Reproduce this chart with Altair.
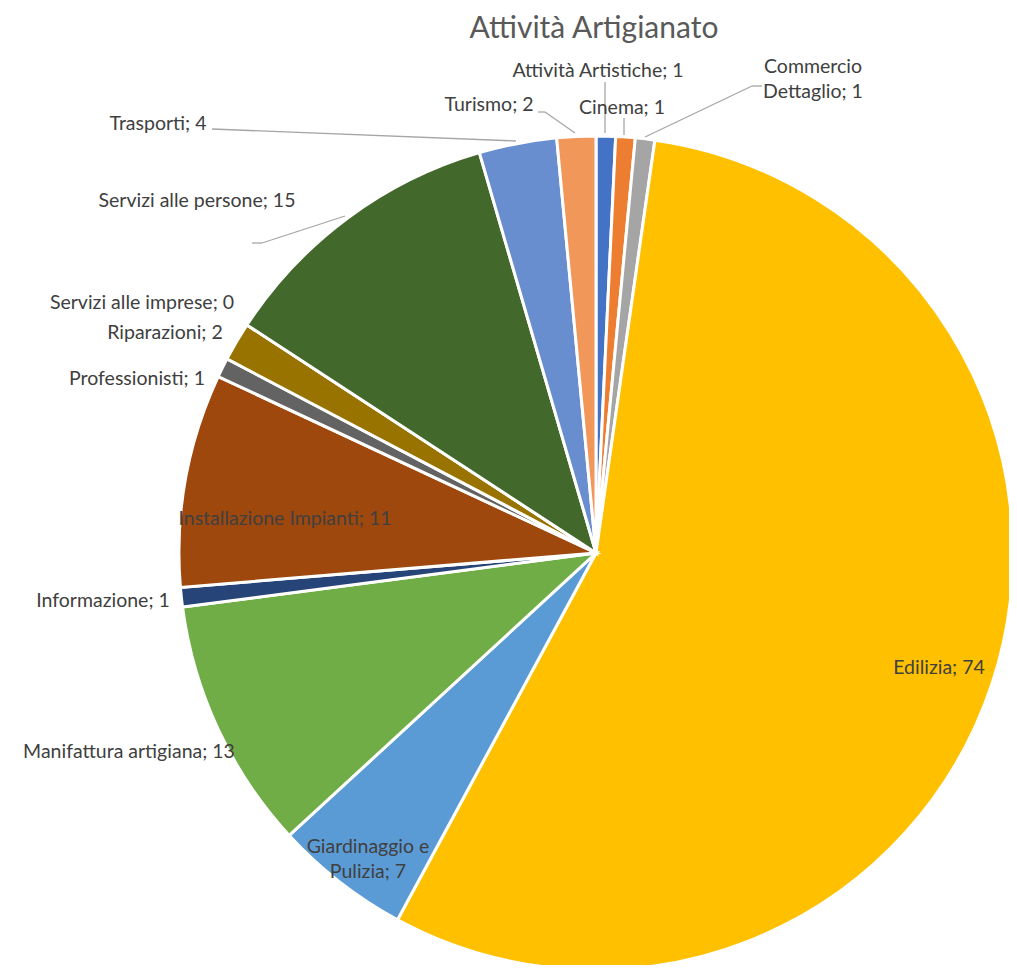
import altair as alt
import pandas as pd

# ---- data ----
categories = ["Attività Artistiche", "Cinema", "Commercio Dettaglio", "Edilizia",
              "Giardinaggio e Pulizia", "Manifattura artigiana", "Informazione",
              "Installazione Impianti", "Professionisti", "Riparazioni",
              "Servizi alle imprese", "Servizi alle persone", "Trasporti", "Turismo"]
values = [1, 1, 1, 74, 7, 13, 1, 11, 1, 2, 0, 15, 4, 2]
title_text = "Attività Artigianato"

# ---- styles / layout ----
colors = ["#4472C4", "#ED7D31", "#A5A5A5", "#FFC000", "#5B9BD5", "#70AD47", "#264478",
          "#9E480E", "#636363", "#997300", "#255E91", "#43682B", "#698ED0", "#F1975A"]
label_breaks = {"Commercio Dettaglio": "Commercio\nDettaglio",
                "Giardinaggio e Pulizia": "Giardinaggio e\nPulizia"}
M = 8  # page margin
CX, CY, R = 596 - M, 553 - M, 417
label_pos = {  # label centres (page pixels), as placed in the original
    "Attività Artistiche": (598, 71), "Cinema": (622, 108),
    "Commercio Dettaglio": (813, 67), "Edilizia": (939, 668),
    "Giardinaggio e Pulizia": (368, 847), "Manifattura artigiana": (129, 752),
    "Informazione": (103, 601), "Installazione Impianti": (285, 519),
    "Professionisti": (137, 379), "Riparazioni": (165, 333),
    "Servizi alle imprese": (142, 303), "Servizi alle persone": (197, 201),
    "Trasporti": (158, 124), "Turismo": (489, 105),
}
leader_segments = [  # (x1, y1, x2, y2) page pixels
    (212, 129, 516, 141),
    (252, 243, 262, 243), (262, 243, 345, 216),
    (538, 112, 545, 112), (545, 112, 575, 133),
    (605, 82, 605, 133),
    (624, 118, 624, 135),
    (762, 86, 752, 86), (752, 86, 645, 137),
]
FONT = "Lato"
TXT = "#404040"
TITLE_COLOR = "#595959"

pie_df = pd.DataFrame({"categoria": categories, "valore": values,
                       "ordine": list(range(len(categories)))})

lab_df = pd.DataFrame({
    "testo": [label_breaks.get(c, c) + f"; {v}" for c, v in zip(categories, values)],
    "x": [label_pos[c][0] - M for c in categories],
    "y": [label_pos[c][1] - M for c in categories],
})
seg_df = pd.DataFrame(leader_segments, columns=["x1", "y1", "x2", "y2"]) - M
title_df = pd.DataFrame({"t": [title_text], "x": [594 - M], "y": [38 - M]})

pie = alt.Chart(pie_df).mark_arc(radius=R, stroke="white", strokeWidth=3).encode(
    theta=alt.Theta("valore:Q", stack=True),
    order=alt.Order("ordine:Q"),
    color=alt.Color("categoria:N", sort=categories,
                    scale=alt.Scale(domain=categories, range=colors), legend=None),
    x=alt.value(CX), y=alt.value(CY),
)

leaders = alt.Chart(seg_df).mark_rule(color="#A6A6A6", strokeWidth=1.3).encode(
    x=alt.X("x1:Q", scale=None), y=alt.Y("y1:Q", scale=None),
    x2="x2:Q", y2="y2:Q",
)

labels = alt.Chart(lab_df).mark_text(font=FONT, fontSize=19.5, color=TXT, align="center",
                                     baseline="middle", lineBreak="\n", lineHeight=25).encode(
    x=alt.X("x:Q", scale=None), y=alt.Y("y:Q", scale=None), text="testo:N",
)

title = alt.Chart(title_df).mark_text(font=FONT, fontSize=30, color=TITLE_COLOR,
                                      align="center", baseline="alphabetic").encode(
    x=alt.X("x:Q", scale=None), y=alt.Y("y:Q", scale=None), text="t:N",
)

chart = alt.layer(pie, leaders, labels, title).properties(
    width=1001, height=957, padding=0,
    autosize=alt.AutoSizeParams(type="none"),
).configure(background="white").configure_view(strokeWidth=0, stroke=None)

chart.save("out.html", embed_options={"renderer": "svg", "actions": False})
